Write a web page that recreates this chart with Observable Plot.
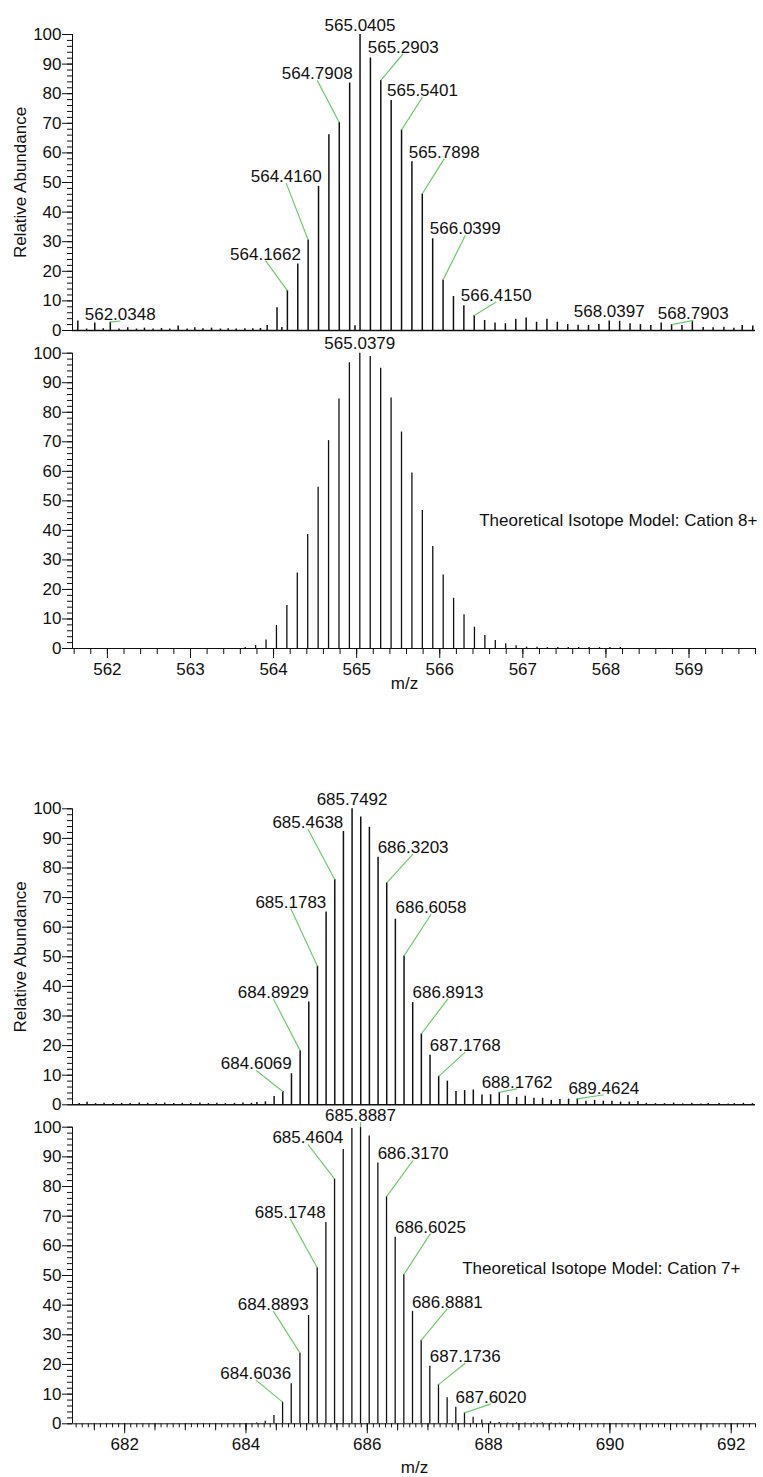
<!DOCTYPE html>
<html>
<head>
<meta charset="utf-8">
<script src="https://cdn.jsdelivr.net/npm/d3@7"></script>
<script src="https://cdn.jsdelivr.net/npm/@observablehq/plot@0.6"></script>
<style>
  html, body { margin: 0; padding: 0; background: #fff; }
  #page { position: relative; width: 763px; height: 1477px; overflow: hidden; }
  #page > div { position: absolute; left: 0; }
</style>
</head>
<body>
<div id="page"></div>
<script>
// ---------------------------------------------------------------
// Spectra: [m/z, relative abundance]
// ---------------------------------------------------------------

// Measured isotope envelope, 8+ charge state
const exp8 = [
  [561.644, 3.2], [561.75, 0.5], [561.848, 2.5], [561.95, 0.6], [562.0348, 2.8],
  [562.14, 0.5], [562.245, 0.9], [562.35, 0.5], [562.446, 0.8], [562.55, 0.5],
  [562.651, 0.7], [562.75, 0.5], [562.852, 1.5], [562.96, 0.5], [563.052, 0.9],
  [563.15, 0.6], [563.253, 0.8], [563.36, 0.5], [563.454, 0.6], [563.55, 0.5],
  [563.654, 0.6], [563.75, 0.6], [563.842, 0.7], [563.923, 1.7],
  [564.0413, 7.7], [564.10, 1.0], [564.1662, 13.5], [564.2911, 22.5], [564.4160, 30.6],
  [564.5409, 48.7], [564.6658, 66.1], [564.7908, 70.3], [564.9157, 83.6], [564.98, 1.6],
  [565.0405, 100], [565.1654, 92.1], [565.2903, 84.5], [565.4152, 77.7], [565.5401, 67.8],
  [565.6649, 57.0], [565.7898, 46.2], [565.9148, 31.0], [566.0399, 17.1], [566.1649, 11.5],
  [566.2900, 8.4], [566.4150, 5.1], [566.540, 3.4], [566.665, 2.5], [566.790, 2.3],
  [566.915, 3.8], [567.040, 4.2], [567.165, 2.8], [567.290, 3.8], [567.415, 2.8],
  [567.540, 2.0], [567.665, 1.8], [567.790, 1.7], [567.915, 2.0], [568.0397, 3.2],
  [568.165, 3.1], [568.290, 2.3], [568.415, 2.0], [568.540, 1.7], [568.665, 2.5],
  [568.7903, 2.0], [568.915, 1.7], [569.040, 3.0], [569.17, 1.0], [569.29, 0.9],
  [569.42, 1.1], [569.54, 0.8], [569.64, 1.7], [569.767, 1.5]
];

// Theoretical isotope model, 8+ cation
const theo8 = [
  [563.6583, 0.3], [563.7838, 1.0], [563.9092, 2.9], [564.0346, 7.8], [564.1600, 14.6],
  [564.2854, 25.6], [564.4108, 38.6], [564.5362, 54.6], [564.6617, 70.4], [564.7871, 84.5],
  [564.9125, 96.8], [565.0379, 100], [565.1633, 98.9], [565.2888, 94.9], [565.4142, 84.8],
  [565.5396, 73.3], [565.6650, 59.4], [565.7904, 46.7], [565.9159, 34.5], [566.0413, 24.9],
  [566.1667, 17.0], [566.2921, 11.4], [566.4175, 7.2], [566.5429, 4.4], [566.6684, 2.7],
  [566.7938, 1.6], [566.9192, 0.9], [567.0446, 0.5], [567.1700, 0.4], [567.2955, 0.3],
  [567.4209, 0.3], [567.5463, 0.3], [567.6717, 0.3], [567.7971, 0.3], [567.9226, 0.3],
  [568.0480, 0.3], [568.1734, 0.3]
];

// Measured isotope envelope, 7+ charge state
const exp7 = [
  [681.25, 0.4], [681.38, 0.9], [681.52, 0.4], [681.66, 0.5], [681.81, 0.4],
  [681.95, 0.5], [682.09, 0.4], [682.24, 0.6], [682.38, 0.5], [682.52, 0.4],
  [682.66, 0.6], [682.81, 0.4], [682.95, 0.5], [683.09, 0.4], [683.24, 0.6],
  [683.38, 0.4], [683.52, 0.5], [683.66, 0.4], [683.81, 0.5], [683.95, 0.6],
  [684.09, 0.5], [684.18, 0.8], [684.32, 1.0],
  [684.4641, 2.8], [684.6069, 4.5], [684.7499, 10.5], [684.8929, 18.3], [685.0356, 34.7],
  [685.1783, 46.8], [685.3211, 65.1], [685.4638, 76.1], [685.6065, 92.3], [685.7492, 100],
  [685.8920, 97.2], [686.0348, 93.8], [686.1776, 83.6], [686.3203, 75.0], [686.4631, 62.7],
  [686.6058, 50.3], [686.7486, 34.5], [686.8913, 24.0], [687.0341, 16.7], [687.1768, 9.6],
  [687.3196, 8.0], [687.4623, 4.5], [687.6051, 4.8], [687.7478, 5.0], [687.8906, 3.3],
  [688.0334, 3.4], [688.1762, 4.2], [688.3190, 3.1], [688.4618, 2.5], [688.6045, 2.9],
  [688.7473, 2.2], [688.8900, 2.2], [689.0328, 1.5], [689.1756, 1.8], [689.3184, 1.9],
  [689.4624, 2.0], [689.6050, 1.2], [689.7478, 1.5], [689.8906, 1.2], [690.0334, 1.2],
  [690.1762, 0.9], [690.3190, 0.9], [690.4618, 1.1], [690.60, 0.5], [690.75, 0.4],
  [690.90, 0.4], [691.05, 0.6], [691.20, 0.3], [691.35, 0.5], [691.50, 0.3],
  [691.62, 0.4], [691.80, 0.4], [691.95, 0.3], [692.05, 0.4], [692.20, 0.5], [692.35, 0.4]
];

// Theoretical isotope model, 7+ cation
const theo7 = [
  [684.1752, 0.3], [684.3180, 0.9], [684.4608, 2.8], [684.6036, 7.3], [684.7464, 13.5],
  [684.8893, 23.9], [685.0320, 36.5], [685.1748, 52.6], [685.3176, 67.9], [685.4604, 82.6],
  [685.6032, 92.5], [685.7460, 99.6], [685.8887, 100], [686.0315, 97.0], [686.1742, 87.9],
  [686.3170, 76.6], [686.4598, 62.9], [686.6025, 50.3], [686.7453, 37.9], [686.8881, 28.1],
  [687.0308, 19.4], [687.1736, 13.2], [687.3164, 8.8], [687.4592, 5.6], [687.6020, 3.7],
  [687.7448, 2.2], [687.8876, 1.3], [688.0304, 0.7], [688.1732, 0.4], [688.3160, 0.3],
  [688.4588, 0.3], [688.6016, 0.3], [688.7444, 0.3], [688.8872, 0.3], [689.0300, 0.3],
  [689.1728, 0.3], [689.3156, 0.3]
];

// Annotated peaks (m/z values printed above the spectrum)
const exp8Labeled = [562.0348, 564.1662, 564.4160, 564.7908, 565.0405, 565.2903,
                     565.5401, 565.7898, 566.0399, 566.4150, 568.0397, 568.7903];
const theo8Labeled = [565.0379];
const exp7Labeled = [684.6069, 684.8929, 685.1783, 685.4638, 685.7492, 686.3203,
                     686.6058, 686.8913, 687.1768, 688.1762, 689.4624];
const theo7Labeled = [684.6036, 684.8893, 685.1748, 685.4604, 685.8887, 686.3170,
                      686.6025, 686.8881, 687.1736, 687.6020];

// Axis ticks
const yMajor = d3.range(0, 101, 10);
const yMinor = d3.range(0, 101, 2);
const x8Major = d3.range(562, 570, 1);
const x8Minor = d3.range(2808, 2850).map(i => i / 5);
const x7Major = d3.range(682, 693, 2);
const x7Mid = d3.range(1363, 1385).map(i => i / 2);
const x7Minor = d3.range(6812, 6925).map(i => i / 10);

// ---------------------------------------------------------------
// Annotation layout: where each label sits ([m/z, abundance]);
// null puts the label straight above its peak without a leader.
// ---------------------------------------------------------------
const exp8Spots = [[562.154, 3.2], [563.903, 23.6], [564.152, 49.8], [564.525, 84.5], null,
                   [565.56, 93.5], [565.792, 78.8], [566.053, 58.0], [566.307, 32.1],
                   [566.679, 9.6], null, [569.05, 3.4]];
const theo8Spots = [null];
const exp7Spots = [[684.17, 11.6], [684.45, 35.8], [684.74, 66.2], [685.02, 93.2], null,
                   [686.755, 84.8], [687.05, 64.3], [687.33, 35.8], [687.615, 17.8],
                   [688.47, 5.4], [689.90, 3.4]];
const theo7Spots = [[684.16, 14.8], [684.45, 38.0], [684.73, 69.1], [685.02, 94.2],
                    [685.8887, 101.7], [686.755, 88.8], [687.04, 64.1], [687.32, 38.8],
                    [687.615, 20.4], [688.04, 6.7]];

const FONT = '"Liberation Sans", Arial, Helvetica, sans-serif';
const INK = "#111";
const LEADER = "#6dcb6d";

function spectrum(cfg) {
  const peaks = cfg.peaks.map(([mz, ab]) => ({mz, ab}));
  const notes = cfg.labeled.map((m, i) => {
    const p = peaks.find(d => d.mz === m);
    const s = cfg.spots[i];
    return {mz: m, ab: p.ab, lx: s ? s[0] : m, ly: s ? s[1] : p.ab, leader: !!s, text: m.toFixed(4)};
  });
  const x0 = cfg.domain[0];

  const marks = [
    Plot.ruleY([0], {stroke: INK, strokeWidth: cfg.baseWidth}),
    Plot.ruleX([x0], {stroke: INK, strokeWidth: 1}),
    Plot.ruleX(peaks, {x: "mz", y1: 0, y2: "ab", stroke: INK, strokeWidth: cfg.peakWidth}),
    Plot.link(notes.filter(d => d.leader), {x1: "lx", y1: "ly", x2: "mz", y2: "ab", stroke: LEADER, strokeWidth: 1.2}),
    Plot.text(notes.filter(d => d.leader), {x: "lx", y: "ly", text: "text", lineAnchor: "bottom", dy: -1, fill: INK}),
    Plot.text(notes.filter(d => !d.leader), {x: "lx", y: "ly", text: "text", lineAnchor: "bottom", dy: -4, fill: INK}),
    Plot.axisY(yMajor, {tickSize: 10, tickPadding: 1, label: null, stroke: INK, fill: INK}),
    Plot.axisY(yMinor, {tickSize: 5, label: null, stroke: INK, fill: "none"})
  ];

  if (cfg.yLabel) {
    // rotated title centred on the abundance axis
    marks.push(Plot.text([cfg.yLabel], {x: () => x0, y: () => 50, text: d => d, textAnchor: "middle",
                                        lineAnchor: "middle", rotate: -90, dx: -52, fill: INK}));
  }
  if (cfg.ticks) {
    for (const t of cfg.ticks) {
      marks.push(t.labels
        ? Plot.axisX(t.values, {tickSize: t.size, tickPadding: 4, label: null, stroke: INK, fill: INK})
        : Plot.axisX(t.values, {tickSize: t.size, label: null, stroke: INK, fill: "none"}));
    }
    marks.push(Plot.text(["m/z"], {text: d => d, frameAnchor: "bottom", textAnchor: "middle", lineAnchor: "middle",
                                   dx: cfg.xLabelDx, dy: cfg.xLabelDy, fill: INK}));
  }
  if (cfg.note) {
    marks.push(Plot.text([cfg.note], {text: d => d, frameAnchor: "right", textAnchor: "end", lineAnchor: "middle",
                                      dx: cfg.noteDx, dy: cfg.noteDy, fill: INK}));
  }

  return Plot.plot({
    width: 763,
    height: cfg.height,
    marginLeft: 72,
    marginRight: 8,
    marginTop: cfg.marginTop,
    marginBottom: cfg.marginBottom,
    x: {domain: cfg.domain, axis: null},
    y: {domain: [0, 100], axis: null},
    style: {fontSize: "17px", fontFamily: FONT, color: INK, background: "transparent", overflow: "visible"},
    marks
  });
}

const panels = [
  {
    top: 0, height: 340, marginTop: 34, marginBottom: 10,
    domain: [561.58, 569.80], peaks: exp8, labeled: exp8Labeled, spots: exp8Spots,
    peakWidth: 1.5, baseWidth: 1.4, yLabel: "Relative Abundance"
  },
  {
    top: 340, height: 360, marginTop: 12.7, marginBottom: 52,
    domain: [561.58, 569.80], peaks: theo8, labeled: theo8Labeled, spots: theo8Spots,
    peakWidth: 1.3, baseWidth: 1,
    ticks: [{values: x8Minor, size: 6}, {values: x8Major, size: 10, labels: true}],
    xLabelDx: -9.5, xLabelDy: 35,
    note: "Theoretical Isotope Model: Cation 8+", noteDx: 2, noteDy: 19.7
  },
  {
    top: 760, height: 350, marginTop: 48.3, marginBottom: 5.7,
    domain: [681.14, 692.40], peaks: exp7, labeled: exp7Labeled, spots: exp7Spots,
    peakWidth: 1.5, baseWidth: 1.4, yLabel: "Relative Abundance"
  },
  {
    top: 1110, height: 367, marginTop: 16.7, marginBottom: 53.7,
    domain: [681.14, 692.40], peaks: theo7, labeled: theo7Labeled, spots: theo7Spots,
    peakWidth: 1.3, baseWidth: 1,
    ticks: [{values: x7Minor, size: 4}, {values: x7Mid, size: 7}, {values: x7Major, size: 10, labels: true}],
    xLabelDx: 0.5, xLabelDy: 43.7,
    note: "Theoretical Isotope Model: Cation 7+", noteDx: -15, noteDy: -7.3
  }
];

const page = document.getElementById("page");
for (const cfg of panels) {
  const holder = document.createElement("div");
  holder.style.top = cfg.top + "px";
  holder.appendChild(spectrum(cfg));
  page.appendChild(holder);
}
</script>
</body>
</html>
